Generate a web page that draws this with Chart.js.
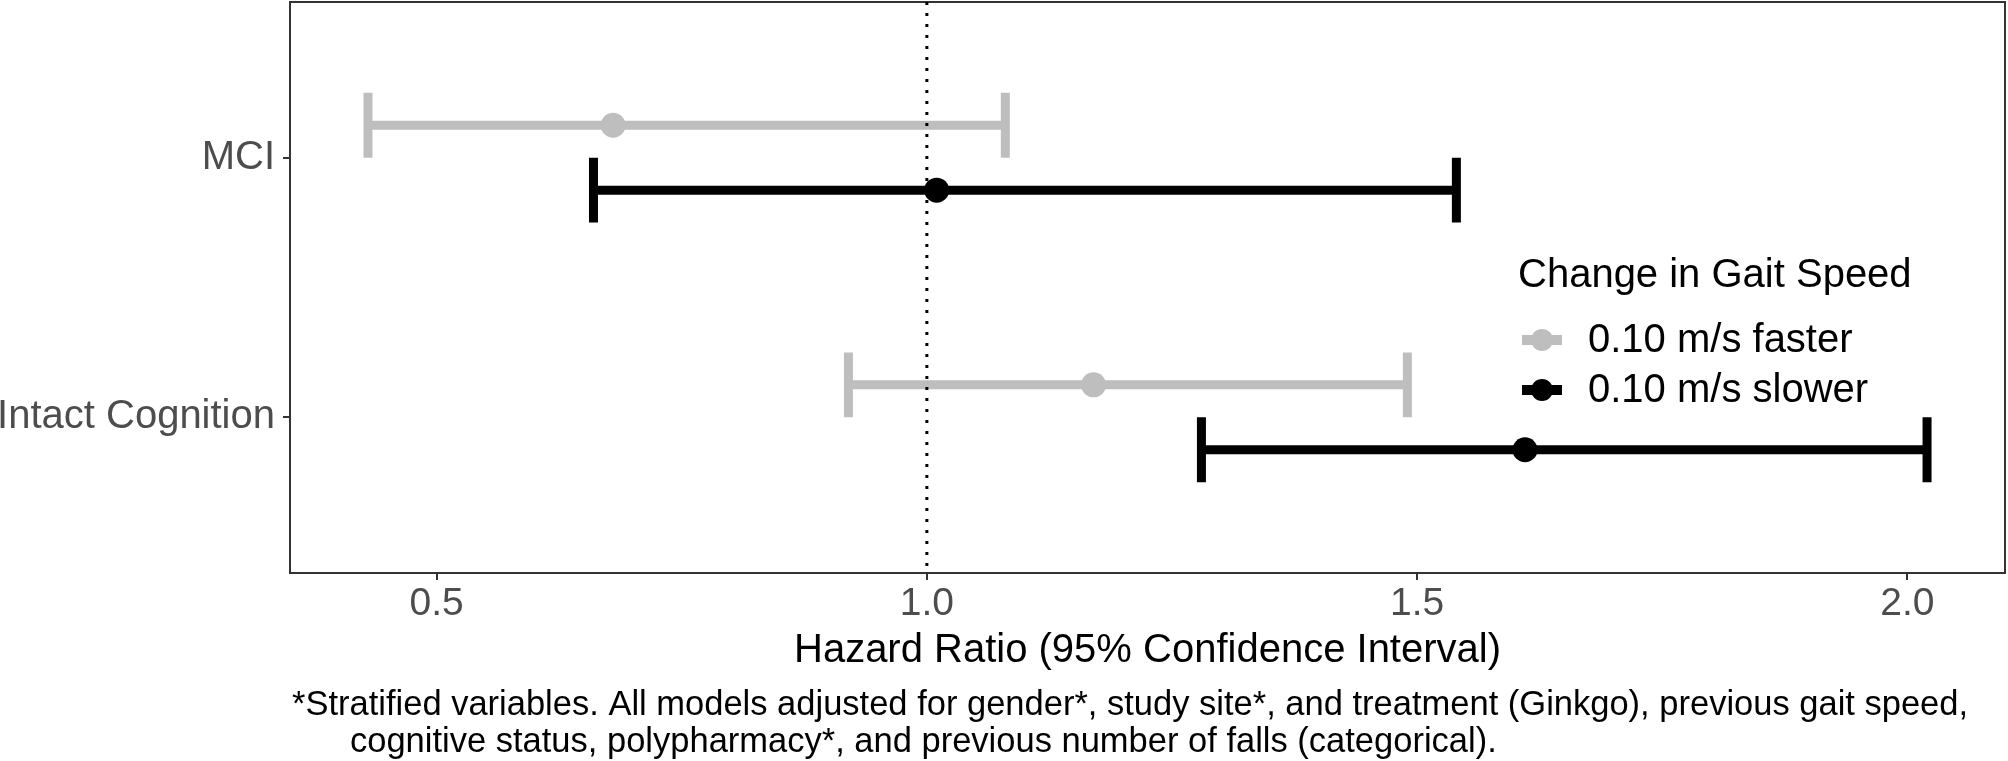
<!DOCTYPE html>
<html>
<head>
<meta charset="utf-8">
<script src="https://cdn.jsdelivr.net/npm/chart.js@4.4.1/dist/chart.umd.min.js"></script>
<style>
  html, body { margin:0; padding:0; background:#fff; }
  #wrap { width:2008px; height:761px; }
</style>
</head>
<body>
<div id="wrap"><canvas id="hrChart" width="2008" height="761"></canvas></div>
<script>
// hazard ratios + 95% CI
const groups = ['MCI', 'Intact Cognition'];
const seriesNames = ['0.10 m/s faster', '0.10 m/s slower'];
const fasterHR = [0.68, 1.17];
const fasterLo = [0.43, 0.92];
const fasterHi = [1.08, 1.49];
const slowerHR = [1.01, 1.61];
const slowerLo = [0.66, 1.28];
const slowerHi = [1.54, 2.02];
const xTicks = [0.5, 1.0, 1.5, 2.0];
const refLine = 1.0;
const legendTitle = 'Change in Gait Speed';
const xTitle = 'Hazard Ratio (95% Confidence Interval)';
const footnote = [
  '*Stratified variables. All models adjusted for gender*, study site*, and treatment (Ginkgo), previous gait speed,',
  'cognitive status, polypharmacy*, and previous number of falls (categorical).'
];

const FONT = '"Liberation Sans", Arial, sans-serif';
const series = [
  { name: seriesNames[0], hr: fasterHR, lo: fasterLo, hi: fasterHi, color: '#BEBEBE', shift: -0.125 },
  { name: seriesNames[1], hr: slowerHR, lo: slowerLo, hi: slowerHi, color: '#000000', shift: 0.125 }
];
const capHalf = 0.125;

// ggplot-like 5% expansion on x, 0.6 on the discrete y
const allLo = Math.min(...fasterLo, ...slowerLo);
const allHi = Math.max(...fasterHi, ...slowerHi);
const xPad = (allHi - allLo) * 0.05;
const yMin = 0.4, yMax = groups.length + 0.6;

const datasets = [];
series.forEach(s => {
  groups.forEach((g, i) => {
    const y = i + 1 + s.shift;
    const seg = pts => datasets.push({
      data: pts, showLine: true, borderColor: s.color, borderWidth: 9,
      borderCapStyle: 'butt', pointRadius: 0, order: 2
    });
    seg([{ x: s.lo[i], y }, { x: s.hi[i], y }]);
    seg([{ x: s.lo[i], y: y - capHalf }, { x: s.lo[i], y: y + capHalf }]);
    seg([{ x: s.hi[i], y: y - capHalf }, { x: s.hi[i], y: y + capHalf }]);
  });
});
datasets.push({
  data: [{ x: refLine, y: yMin }, { x: refLine, y: yMax }],
  showLine: true, borderColor: '#000', borderWidth: 3, borderDash: [3, 8],
  pointRadius: 0, order: 1
});
series.forEach(s => {
  datasets.push({
    data: groups.map((g, i) => ({ x: s.hr[i], y: i + 1 + s.shift })),
    showLine: false, pointRadius: 12.5, pointBackgroundColor: s.color,
    pointBorderWidth: 0, order: 0
  });
});

const panelBorder = {
  id: 'panelBorder',
  beforeDatasetsDraw(chart) {
    const { ctx, chartArea: a } = chart;
    ctx.save();
    ctx.strokeStyle = '#333333';
    ctx.lineWidth = 2;
    ctx.strokeRect(a.left, a.top, a.right - a.left, a.bottom - a.top);
    ctx.restore();
  }
};

const legendAndNote = {
  id: 'legendAndNote',
  afterDraw(chart) {
    const ctx = chart.ctx;
    ctx.save();
    ctx.textBaseline = 'alphabetic';
    ctx.textAlign = 'left';
    ctx.fillStyle = '#000';
    ctx.font = '40px ' + FONT;
    ctx.fillText(legendTitle, 1518, 287);
    series.forEach((s, k) => {
      const cy = 340 + k * 50;
      ctx.strokeStyle = s.color;
      ctx.lineWidth = 10;
      ctx.beginPath(); ctx.moveTo(1522, cy); ctx.lineTo(1562, cy); ctx.stroke();
      ctx.fillStyle = s.color;
      ctx.beginPath(); ctx.arc(1542, cy, 11, 0, Math.PI * 2); ctx.fill();
      ctx.fillStyle = '#000';
      ctx.fillText(s.name, 1588, cy + 12);
    });
    ctx.font = '34.5px ' + FONT;
    ctx.fillText(footnote[0], 292, 715);
    ctx.fillText(footnote[1], 350, 752);
    ctx.restore();
  }
};

const noPad = s => { s.paddingTop = 0; s.paddingBottom = 0; s.paddingLeft = 0; s.paddingRight = 0; };

new Chart(document.getElementById('hrChart'), {
  type: 'scatter',
  data: { datasets },
  options: {
    responsive: false,
    animation: false,
    devicePixelRatio: 1,
    layout: { autoPadding: false, padding: { top: 2, right: 3, left: 0, bottom: 0 } },
    plugins: { legend: { display: false }, tooltip: { enabled: false } },
    scales: {
      x: {
        type: 'linear',
        min: allLo - xPad,
        max: allHi + xPad,
        afterBuildTicks: s => { s.ticks = xTicks.map(v => ({ value: v })); },
        afterFit: s => { s.height = 188; noPad(s); },
        ticks: {
          callback: v => Number(v).toFixed(1),
          font: { family: FONT, size: 39 }, color: '#4D4D4D',
          padding: 1, maxRotation: 0, autoSkip: false
        },
        grid: { drawOnChartArea: false, drawTicks: true, tickLength: 7, color: '#333333', lineWidth: 2 },
        border: { display: true, color: '#333333', width: 2 },
        title: {
          display: true, text: xTitle, color: '#000',
          font: { family: FONT, size: 40 }, padding: { top: 0, bottom: 86 }
        }
      },
      y: {
        type: 'linear',
        min: yMin,
        max: yMax,
        reverse: true,
        afterBuildTicks: s => { s.ticks = groups.map((g, i) => ({ value: i + 1 })); },
        afterFit: s => { s.width = 290; noPad(s); },
        ticks: {
          callback: v => groups[Math.round(v) - 1],
          font: { family: FONT, size: 40 }, color: '#4D4D4D', padding: 8, autoSkip: false
        },
        grid: { drawOnChartArea: false, drawTicks: true, tickLength: 7, color: '#333333', lineWidth: 2 },
        border: { display: true, color: '#333333', width: 2 }
      }
    }
  },
  plugins: [panelBorder, legendAndNote]
});
</script>
</body>
</html>
